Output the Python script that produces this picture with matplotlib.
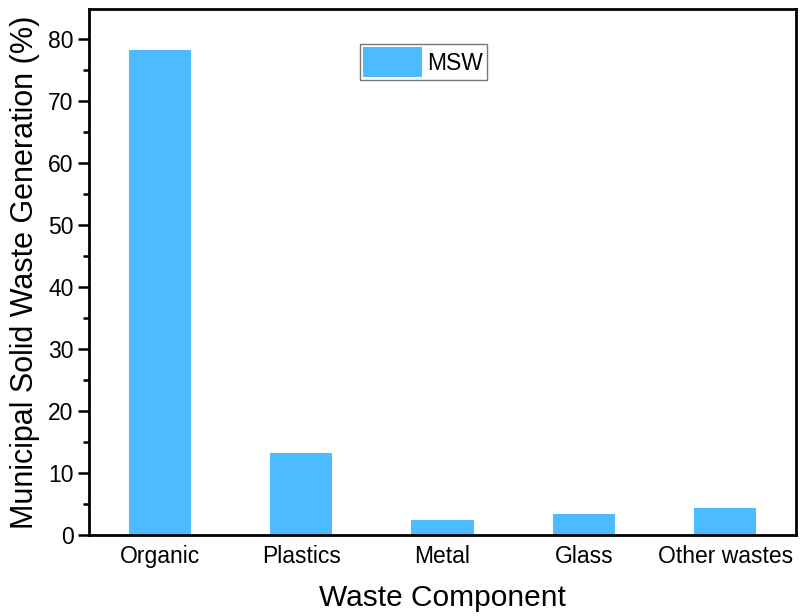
import matplotlib
matplotlib.use("Agg")
import matplotlib.pyplot as plt
from matplotlib.ticker import MultipleLocator

categories = ["Organic", "Plastics", "Metal", "Glass", "Other wastes"]
msw_values = [78.2, 13.3, 2.4, 3.4, 4.3]

plt.rcParams['font.family'] = ['Liberation Sans', 'DejaVu Sans']

fig = plt.figure(figsize=(8.01, 6.16), dpi=100)
ax = fig.add_axes([89/801, 1-535/616, (796-89)/801, (535-9)/616])

x = list(range(len(categories)))
ax.bar(x, msw_values, width=0.44, color='#4DBBFF', label='MSW', zorder=2)

ax.set_xlim(-0.5, 4.5)
ax.set_ylim(0, 84.8)
ax.set_xticks(x)
ax.set_xticklabels(categories)
ax.yaxis.set_major_locator(MultipleLocator(10))
ax.yaxis.set_minor_locator(MultipleLocator(5))

ax.tick_params(axis='x', length=0, labelsize=16.5, pad=7)
ax.tick_params(axis='y', which='major', direction='out', length=8, width=1.8, labelsize=16.5, pad=3)
ax.tick_params(axis='y', which='minor', direction='out', length=4.5, width=1.8)
for s in ax.spines.values():
    s.set_linewidth(2)

ax.set_xlabel('Waste Component', fontsize=21.5, labelpad=12)
ax.set_ylabel('Municipal Solid Waste Generation (%)', fontsize=22, labelpad=6)

leg = ax.legend(loc='upper left', bbox_to_anchor=(360/801, 1-44/616), bbox_transform=fig.transFigure,
                fontsize=16.5, frameon=True, fancybox=False, edgecolor='#555555',
                handlelength=2.55, handleheight=1.6, handletextpad=0.25, borderpad=0.15,
                borderaxespad=0)
leg.get_frame().set_linewidth(1.0)

fig.savefig('out.png', dpi=100)
